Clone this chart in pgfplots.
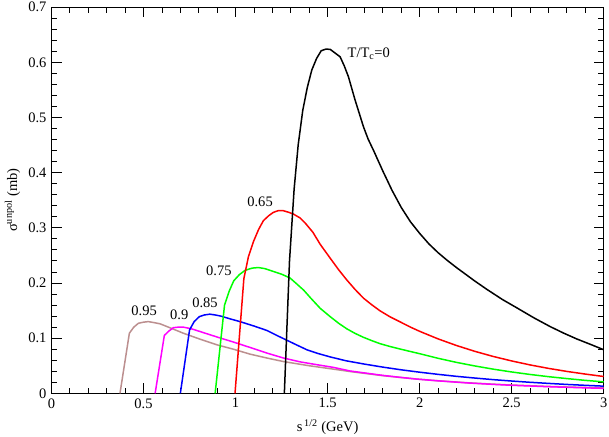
\documentclass[border=0pt]{standalone}
\usepackage{fontspec}
\setmainfont{Liberation Serif}
\usepackage{pgfplots}
\pgfplotsset{compat=1.18}
\definecolor{grbrown}{RGB}{188,143,143}
\definecolor{grmagenta}{RGB}{255,0,255}
\definecolor{grgreen}{RGB}{0,255,0}
\definecolor{grred}{RGB}{255,0,0}
\definecolor{grblue}{RGB}{0,0,255}
\begin{document}
\fontsize{14.5}{17}\selectfont
\begin{tikzpicture}
\begin{axis}[
  scale only axis,
  width=552pt, height=386pt,
  xmin=0, xmax=3, ymin=0, ymax=0.7,
  xtick={0,0.5,...,3}, ytick={0,0.1,...,0.7},
  minor x tick num=4, minor y tick num=4,
  tick align=inside,
  major tick length=10pt, minor tick length=5.5pt,
  every tick/.style={black, line width=0.9pt},
  axis line style={line width=0.9pt},
  /pgf/number format/assume math mode=true,
  xticklabel style={/pgf/number format/fixed},
  yticklabel style={/pgf/number format/fixed, /pgf/number format/precision=1},
  xlabel={s\textsuperscript{\,1/2} (GeV)},
  ylabel={σ\textsuperscript{unpol} (mb)},
  xlabel style={at={(axis description cs:0.5,-0.088)}, anchor=center},
  ylabel style={at={(axis description cs:-0.0705,0.5)}, anchor=center},
  every axis plot/.append style={line width=1.5pt, no markers, line join=round},
  clip=false,
]
% T/Tc = 0.95
\addplot[color=grbrown] coordinates {
(0.372,0) (0.423,0.109) (0.447,0.120) (0.472,0.127) (0.50,0.129) (0.526,0.130)
(0.56,0.128) (0.59,0.126) (0.65,0.118) (0.716,0.109) (0.80,0.099) (0.898,0.088)
(0.988,0.080) (1.079,0.071) (1.17,0.064) (1.26,0.0576) (1.40,0.050) (1.532,0.0438)
(1.622,0.0395) (1.80,0.032) (1.894,0.0288) (1.985,0.0258) (2.10,0.0228) (2.257,0.0192)
(2.40,0.0166) (2.50,0.0150) (2.70,0.0125) (2.85,0.0110) (3.0,0.0098)};
% T/Tc = 0.9
\addplot[color=grmagenta] coordinates {
(0.563,0) (0.613,0.105) (0.638,0.113) (0.662,0.119) (0.69,0.120) (0.716,0.120)
(0.76,0.117) (0.807,0.112) (0.90,0.102) (0.988,0.093) (1.08,0.083) (1.17,0.073)
(1.26,0.064) (1.351,0.057) (1.44,0.052) (1.532,0.047) (1.622,0.0405) (1.80,0.0325)
(1.894,0.0290) (1.985,0.0258) (2.10,0.0226) (2.257,0.0189) (2.40,0.0162) (2.50,0.0146)
(2.70,0.0120) (2.85,0.0104) (3.0,0.0090)};
% T/Tc = 0.85
\addplot[color=grblue] coordinates {
(0.70,0) (0.75,0.115) (0.775,0.130) (0.803,0.139) (0.83,0.142) (0.86,0.1435)
(0.89,0.142) (0.92,0.140) (0.97,0.135) (1.024,0.130) (1.10,0.122) (1.17,0.114)
(1.23,0.104) (1.28,0.096) (1.33,0.088) (1.387,0.079) (1.45,0.072) (1.514,0.066)
(1.60,0.0590) (1.70,0.0530) (1.80,0.0475) (1.90,0.0426) (2.0,0.0383) (2.1,0.0344)
(2.2,0.0308) (2.3,0.0277) (2.4,0.0248) (2.5,0.0223) (2.6,0.0200) (2.7,0.0180)
(2.8,0.0161) (2.9,0.0145) (3.0,0.0130)};
% T/Tc = 0.75
\addplot[color=grgreen] coordinates {
(0.889,0) (0.94,0.160) (0.965,0.185) (0.99,0.204) (1.02,0.215) (1.052,0.223)
(1.09,0.227) (1.124,0.228) (1.16,0.226) (1.205,0.221) (1.25,0.216) (1.296,0.209)
(1.33,0.199) (1.37,0.187) (1.41,0.172) (1.46,0.154) (1.514,0.139) (1.56,0.127)
(1.604,0.117) (1.65,0.1085) (1.695,0.1015) (1.74,0.0955) (1.785,0.0900) (1.84,0.0848)
(1.894,0.0803) (1.95,0.0758) (2.003,0.0716) (2.1,0.0635) (2.2,0.0561) (2.3,0.0496)
(2.4,0.0438) (2.5,0.0387) (2.6,0.0342) (2.7,0.0302) (2.8,0.0267) (2.9,0.0235)
(3.0,0.0208)};
% T/Tc = 0.65
\addplot[color=grred] coordinates {
(0.997,0) (1.045,0.208) (1.07,0.248) (1.097,0.275) (1.125,0.297) (1.151,0.313)
(1.18,0.322) (1.205,0.328) (1.23,0.331) (1.26,0.331) (1.29,0.328) (1.314,0.325)
(1.35,0.318) (1.38,0.308) (1.42,0.292) (1.46,0.270) (1.514,0.245) (1.56,0.224)
(1.604,0.2056) (1.65,0.188) (1.695,0.1725) (1.74,0.1605) (1.785,0.1495) (1.84,0.1385)
(1.894,0.1295) (1.95,0.1200) (2.003,0.1120) (2.1,0.0987) (2.2,0.0867) (2.3,0.0761)
(2.4,0.0668) (2.5,0.0587) (2.6,0.0515) (2.7,0.0452) (2.8,0.0397) (2.9,0.0349)
(3.0,0.0305)};
% T/Tc = 0
\addplot[color=black] coordinates {
(1.265,0) (1.293,0.240) (1.318,0.370) (1.34,0.450) (1.365,0.513) (1.39,0.555)
(1.414,0.586) (1.44,0.607) (1.465,0.621) (1.49,0.624) (1.514,0.6236) (1.54,0.617)
(1.568,0.610) (1.59,0.594) (1.613,0.574) (1.649,0.532) (1.695,0.483) (1.72,0.461)
(1.75,0.440) (1.80,0.403) (1.85,0.368) (1.90,0.337) (1.95,0.311) (2.00,0.290)
(2.05,0.271) (2.10,0.255) (2.15,0.241) (2.20,0.228) (2.30,0.2035) (2.365,0.1885)
(2.45,0.170) (2.528,0.155) (2.62,0.137) (2.709,0.121) (2.78,0.1095) (2.854,0.0985)
(2.93,0.0885) (3.0,0.079)};
\node[anchor=west, inner sep=0pt] at (axis cs:1.608,0.615) {T/T\textsubscript{c}=0};
\node at (axis cs:1.133,0.347) {0.65};
\node at (axis cs:0.909,0.222) {0.75};
\node at (axis cs:0.834,0.165) {0.85};
\node at (axis cs:0.694,0.142) {0.9};
\node at (axis cs:0.503,0.149) {0.95};
\coordinate (sw) at (rel axis cs:0,0);
\coordinate (ne) at (rel axis cs:1,1);
\end{axis}
\pgfresetboundingbox
\useasboundingbox ([shift={(-51.5pt,-43.5pt)}]sw) rectangle ([shift={(5.3pt,7.2pt)}]ne);
\end{tikzpicture}
\end{document}
